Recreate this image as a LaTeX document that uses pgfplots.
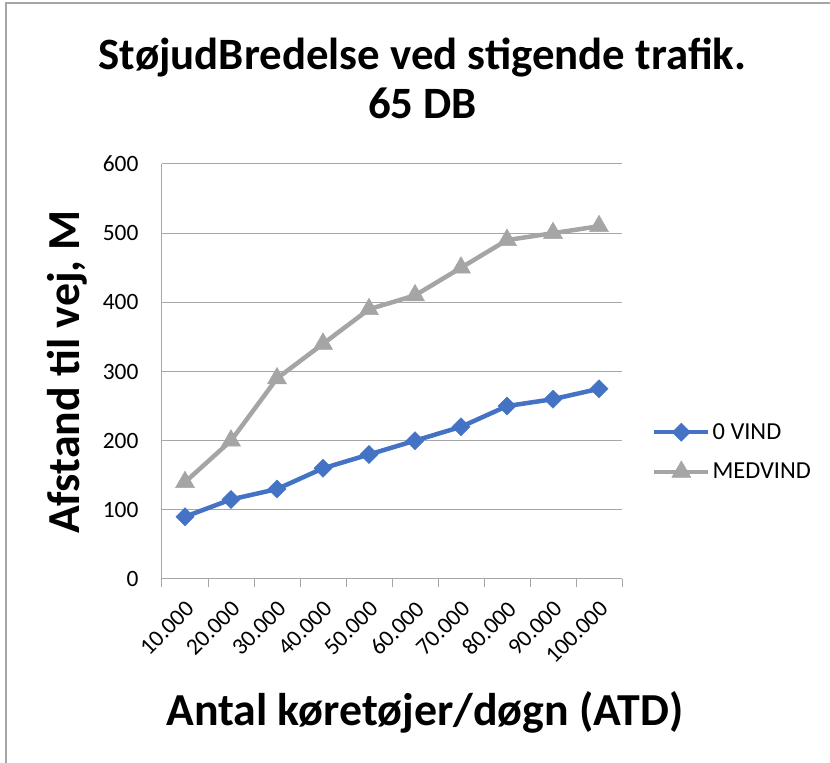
\documentclass[border=0pt]{standalone}
\usepackage{pgfplots}
\pgfplotsset{compat=1.18}
\usepackage{fontspec}
\setmainfont{Carlito}
\definecolor{cblue}{HTML}{4472C4}
\definecolor{cgray}{HTML}{A5A5A5}
\definecolor{gridc}{HTML}{A6A6A6}
\begin{document}
\begin{tikzpicture}[x=1bp,y=1bp]
\useasboundingbox (-162,-184) rectangle (668,579);
\draw[gridc, line width=1.2bp] (-156,-184) -- (-156,576) -- (668,576);
\begin{axis}[at={(0,0)}, anchor=south west, scale only axis, width=460bp, height=415bp,
 xmin=-0.5, xmax=9.5, ymin=0, ymax=600,
 axis x line*=bottom, axis y line*=left,
 axis line style={gridc, line width=1bp, -},
 xtick={0,...,9},
 xticklabels={10.000,20.000,30.000,40.000,50.000,60.000,70.000,80.000,90.000,100.000},
 minor xtick={-0.5,0.5,...,9.5},
 major x tick style={draw=none},
 minor x tick style={gridc, line width=1bp},
 tick align=outside, minor tick length=8bp, major tick length=0pt,
 ytick={0,100,...,600},
 ymajorgrids, major grid style={gridc, line width=1bp},
 major y tick style={draw=none},
 /pgf/number format/assume math mode=true,
 yticklabel style={font=\fontsize{23.5}{26}\selectfont, xshift=-20bp},
 xticklabel style={font=\fontsize{23.5}{26}\selectfont, xshift=5bp, yshift=-26bp, rotate=45, anchor=east, inner sep=0bp},
 legend style={at={(rel axis cs:1.065,0.306)}, anchor=west, draw=none, fill=none,
   font=\fontsize{24.5}{26}\selectfont, row sep=18bp, inner sep=0pt},
 legend cell align=left,
 legend image code/.code={\draw[#1, mark repeat=2, mark phase=2] plot coordinates {(0bp,0bp) (27bp,0bp) (54bp,0bp)};},
]
\addplot[cblue, line width=4.5bp, mark=square*, mark size=6.4bp, mark options={fill=cblue, rotate=45, line width=0.5bp}]
 coordinates {(0,90) (1,115) (2,130) (3,160) (4,180) (5,200) (6,220) (7,250) (8,260) (9,275)};
\addlegendentry{0 VIND}
\addplot[cgray, line width=4.5bp, mark=triangle*, mark size=11bp, mark options={fill=cgray, line width=0.5bp}]
 coordinates {(0,140) (1,200) (2,290) (3,340) (4,390) (5,410) (6,450) (7,490) (8,500) (9,510)};
\addlegendentry{MEDVIND}
\end{axis}
\node[font=\fontsize{45}{50}\selectfont\bfseries, anchor=base] at (260.5,509) {StøjudBredelse ved stigende trafik.};
\node[font=\fontsize{45}{50}\selectfont\bfseries, anchor=base] at (260.5,460) {65 DB};
\node[font=\fontsize{46}{50}\selectfont\bfseries, rotate=90, anchor=center] at (-95,207) {Afstand til vej, M};
\node[font=\fontsize{46}{50}\selectfont\bfseries, anchor=center] at (263,-133) {Antal køretøjer/døgn (ATD)};
\end{tikzpicture}
\end{document}
